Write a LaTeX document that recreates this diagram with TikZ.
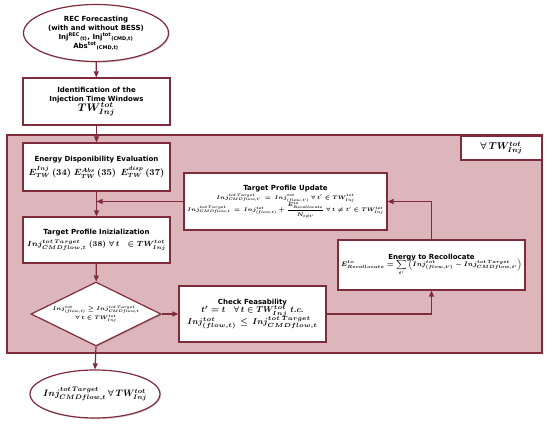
\RequirePackage{fix-cm}
\documentclass[tikz,border=0pt]{standalone}
\usepackage{xcolor}
\definecolor{frame1}{HTML}{7E2B3B}
\definecolor{region1}{HTML}{DDB6BC}
\usepackage{amsmath,amssymb}
\usepackage{fontspec}
\setmainfont{DejaVu Sans}
\usepackage{tikz}
\usetikzlibrary{positioning,arrows.meta,shapes.geometric,shadows}
\AtBeginDocument{\boldmath}

\begin{document}
\begin{tikzpicture}[x=1pt, y=-1pt,
    procbox/.style={rectangle, draw=frame1, line width=1.2pt, fill=white, align=center, inner sep=1pt,
      drop shadow={shadow xshift=1.2pt, shadow yshift=-1.2pt, opacity=0.3}},
    termnode/.style={ellipse, draw=frame1, line width=1.2pt, fill=white, align=center, inner sep=0pt,
      drop shadow={shadow xshift=1.2pt, shadow yshift=-1.2pt, opacity=0.3}},
    decision/.style={diamond, draw=frame1, line width=1.2pt, fill=white, inner sep=0pt,
      drop shadow={shadow xshift=1.2pt, shadow yshift=-1.2pt, opacity=0.3}},
    flow/.style={draw=frame1, line width=1.2pt, -{Triangle[length=6pt, width=5pt]}},
    ttl/.style={font=\fontsize{7}{9}\selectfont\bfseries}]
  \useasboundingbox (0,0) rectangle (550,430);
  % shaded loop area
  \node[rectangle, draw=frame1, line width=1.2pt, fill=region1, minimum width=535pt,
    minimum height=218pt, drop shadow={shadow xshift=1.2pt, shadow yshift=-1.2pt, opacity=0.3}]
    (region) at (274.5,244) {};
  \node[procbox, minimum width=81pt, minimum height=24pt] (forall) at (501.5,148)
    {\fontsize{10}{12}\selectfont$\forall\, TW^{tot}_{Inj}$};

  \node[termnode, minimum width=145pt, minimum height=57pt, ttl] (forecast) at (96,33)
    {REC Forecasting\\(with and without BESS)\\
     Inj\textsuperscript{REC}\textsubscript{(t)}, Inj\textsuperscript{tot}\textsubscript{(CMD,t)}\\
     Abs\textsuperscript{tot}\textsubscript{(CMD,t)}};
  \node[procbox, minimum width=147pt, minimum height=47pt, ttl] (windows) at (96.5,101.5)
    {Identification of the\\Injection Time Windows\\[-1pt]
     {\fontsize{11}{12}\selectfont$TW^{tot}_{Inj}$}};
  \node[procbox, minimum width=147pt, minimum height=48pt, ttl] (energy) at (96.5,167)
    {Energy Disponibility Evaluation\\[3pt]
     {\fontsize{9}{11}\selectfont$E^{Inj}_{TW}\,(34)\;E^{Abs}_{TW}\,(35)\;\,E^{disp}_{TW}\,(37)$}};
  \node[procbox, minimum width=203pt, minimum height=57pt, ttl] (update) at (285.5,201.5)
    {Target Profile Update\\
     {\fontsize{5.2}{8}\selectfont$Inj^{tot\,Target}_{CMDflow,t'} \,=\, Inj^{tot}_{(flow,t')}\ \forall\, t' \in TW^{tot}_{Inj}$}\\[-1pt]
     {\fontsize{5.2}{8}\selectfont$Inj^{tot\,Target}_{CMDflow,t} \,=\, Inj^{tot}_{(flow,t)} + \dfrac{E^{to}_{Recollocate}}{N_{t\neq t'}}\ \forall\, t \neq t' \in TW^{tot}_{Inj}$}};
  \node[procbox, minimum width=147pt, minimum height=46pt, ttl] (init) at (96.5,240)
    {Target Profile Inizialization\\[3pt]
     {\fontsize{7.5}{10}\selectfont$Inj^{tot\,Target}_{CMDflow,t}\ (38)\ \forall\, t\ \ \in TW^{tot}_{Inj}$}};
  \node[decision, minimum width=130pt, minimum height=64pt] (test) at (96,314) {};
  \node[align=center, font=\fontsize{5.2}{9}\selectfont] (testtxt) at (test.center)
    {$Inj^{tot}_{(flow,t)} \geq Inj^{tot\,Target}_{CMDflow,t}$\\$\forall\, t \in TW^{tot}_{Inj}$};
  \node[procbox, minimum width=147pt, minimum height=56pt, ttl] (check) at (252.5,314)
    {Check Feasability\\[-1pt]
     {\fontsize{8.5}{10}\selectfont$t' = t \quad \forall\, t \in TW^{tot}_{Inj}\ t.c.$}\\[-1pt]
     {\fontsize{8.5}{10}\selectfont$Inj^{tot}_{(flow,t)} \,\leq\, Inj^{tot\,Target}_{CMDflow,t}$}};
  \node[procbox, minimum width=187pt, minimum height=50pt, ttl] (recol) at (431.5,265)
    {Energy to Recollocate\\[-2pt]
     {\fontsize{6.5}{9}\selectfont$E^{to}_{Recollocate} = \displaystyle\sum_{t'} \left( Inj^{tot}_{(flow,t')} - Inj^{tot\,Target}_{CMDflow,t'} \right)$}};
  \node[termnode, minimum width=130pt, minimum height=48pt] (final) at (95,394) {};
  \node[font=\fontsize{9.3}{11}\selectfont] (finaltxt) at (final.center)
    {$Inj^{tot\,Target}_{CMDflow,t}\,\forall\, TW^{tot}_{Inj}$};

  \draw[flow] (forecast) -- (windows);
  \draw[flow] (windows) -- (energy);
  \draw[flow] (energy) -- (init);
  \draw[flow] (update.west) -- (update.west -| init.north);
  \draw[flow] (init) -- (test);
  \draw[flow] (test.east) -- (check.west);
  \draw[flow] (check.east) -| (recol.south);
  \draw[flow] (recol.north) |- (update.east);
  \draw[flow] (test.south) -- (final.north);
\end{tikzpicture}
\end{document}
